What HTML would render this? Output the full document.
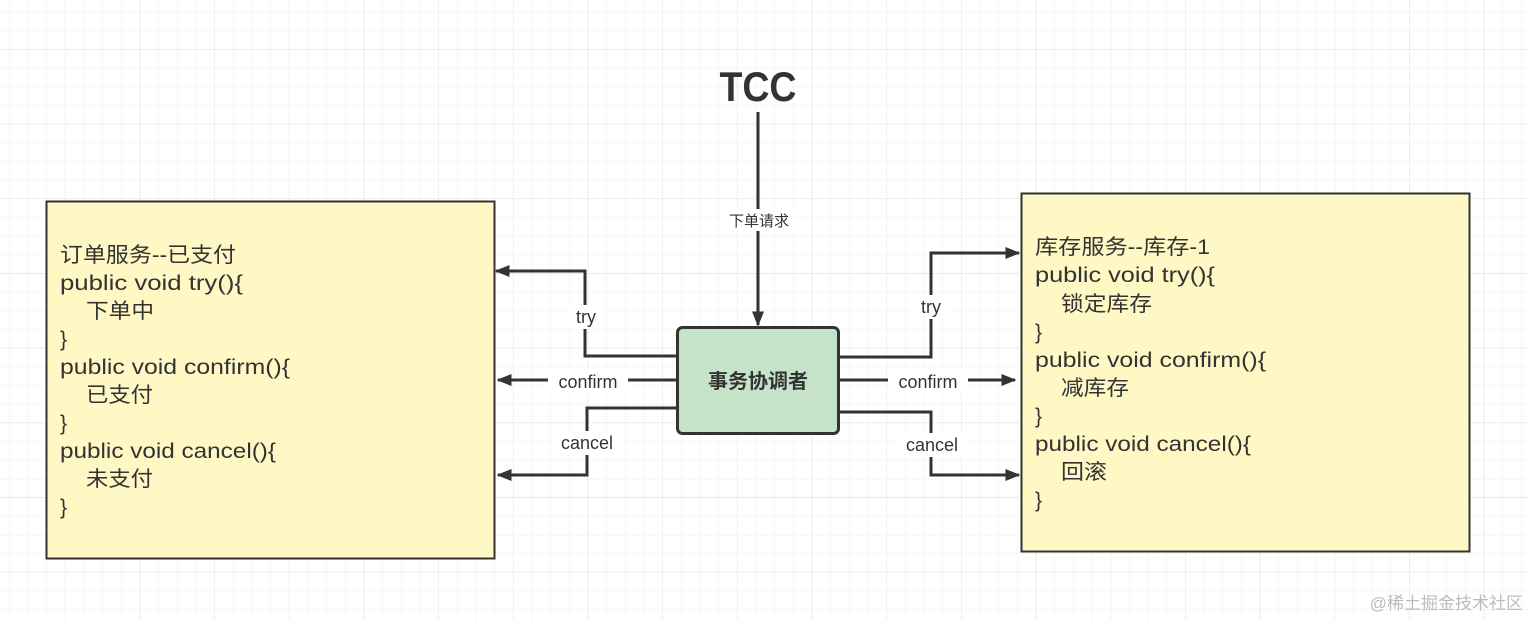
<!DOCTYPE html>
<html><head><meta charset="utf-8"><style>
html,body{margin:0;padding:0;background:#fff;}
svg{display:block;}
text{font-family:"Liberation Sans","Noto Sans CJK SC",sans-serif;}
</style></head><body>
<svg width="1529" height="620" viewBox="0 0 1529 620" xmlns="http://www.w3.org/2000/svg">
<defs>
<pattern id="g" x="9" y="12" width="18.67" height="18.67" patternUnits="userSpaceOnUse">
<path d="M0 0H18.67M0 0V18.67" stroke="#ededed" stroke-width="1" fill="none"/>
</pattern>
<pattern id="G" x="65" y="49" width="74.67" height="74.67" patternUnits="userSpaceOnUse">
<path d="M0 0H74.67M0 0V74.67" stroke="#e4e4e4" stroke-width="1" fill="none"/>
</pattern>
<marker id="a" viewBox="0 0 10 10" refX="9" refY="5" markerWidth="5" markerHeight="5" orient="auto"><path d="M0 1L10 5L0 9Z" fill="#333"/></marker>
</defs>
<rect width="1529" height="620" fill="url(#g)"/>
<rect width="1529" height="620" fill="url(#G)"/>

<rect x="46.5" y="201.5" width="448" height="357" fill="#fff8c5" stroke="#333" stroke-width="2"/>
<rect x="1021.5" y="193.5" width="448" height="358" fill="#fff8c5" stroke="#333" stroke-width="2"/>

<g fill="#333" font-size="21" lengthAdjust="spacingAndGlyphs">
<text x="60" y="262" textLength="176" lengthAdjust="spacingAndGlyphs">订单服务--已支付</text>
<text x="60" y="290" textLength="183" lengthAdjust="spacingAndGlyphs">public void try(){</text>
<text x="86" y="318" textLength="68" lengthAdjust="spacingAndGlyphs">下单中</text>
<text x="60" y="346">}</text>
<text x="60" y="374" textLength="230" lengthAdjust="spacingAndGlyphs">public void confirm(){</text>
<text x="86" y="402" textLength="67" lengthAdjust="spacingAndGlyphs">已支付</text>
<text x="60" y="430">}</text>
<text x="60" y="458" textLength="216" lengthAdjust="spacingAndGlyphs">public void cancel(){</text>
<text x="86" y="486" textLength="67" lengthAdjust="spacingAndGlyphs">未支付</text>
<text x="60" y="514">}</text>

<text x="1035" y="254" textLength="175" lengthAdjust="spacingAndGlyphs">库存服务--库存-1</text>
<text x="1035" y="282" textLength="180" lengthAdjust="spacingAndGlyphs">public void try(){</text>
<text x="1061" y="311" textLength="91" lengthAdjust="spacingAndGlyphs">锁定库存</text>
<text x="1035" y="339">}</text>
<text x="1035" y="367" textLength="231" lengthAdjust="spacingAndGlyphs">public void confirm(){</text>
<text x="1061" y="395" textLength="68" lengthAdjust="spacingAndGlyphs">减库存</text>
<text x="1035" y="423">}</text>
<text x="1035" y="451" textLength="216" lengthAdjust="spacingAndGlyphs">public void cancel(){</text>
<text x="1061" y="479" textLength="46" lengthAdjust="spacingAndGlyphs">回滚</text>
<text x="1035" y="507">}</text>
</g>

<text x="758" y="101" text-anchor="middle" font-size="42" font-weight="bold" fill="#333" textLength="77" lengthAdjust="spacingAndGlyphs">TCC</text>

<g stroke="#333" stroke-width="3" fill="none" marker-end="url(#a)">
<path d="M758 112V325"/>
<path d="M677 356H585V271H496"/>
<path d="M677 380H498"/>
<path d="M677 408H587V475H498"/>
<path d="M839 357H931V253H1019"/>
<path d="M839 380H1015"/>
<path d="M839 412H931V475H1019"/>
</g>

<rect x="677.5" y="327.5" width="161" height="106" rx="5" fill="#c6e3c9" stroke="#333" stroke-width="3"/>
<text x="758" y="388" text-anchor="middle" font-size="20" font-weight="bold" fill="#333">事务协调者</text>

<g font-size="18" fill="#333" text-anchor="middle">
<rect x="722" y="209" width="72" height="22" fill="#fff"/>
<text x="759" y="226" font-size="15">下单请求</text>
<rect x="568" y="305" width="36" height="24" fill="#fff"/>
<text x="586" y="323">try</text>
<rect x="548" y="370" width="80" height="24" fill="#fff"/>
<text x="588" y="388">confirm</text>
<rect x="554" y="431" width="66" height="24" fill="#fff"/>
<text x="587" y="449">cancel</text>
<rect x="913" y="295" width="36" height="24" fill="#fff"/>
<text x="931" y="313">try</text>
<rect x="888" y="370" width="80" height="24" fill="#fff"/>
<text x="928" y="388">confirm</text>
<rect x="899" y="433" width="66" height="24" fill="#fff"/>
<text x="932" y="451">cancel</text>
</g>

<text x="1523" y="609" text-anchor="end" font-size="17" fill="#bbb">@稀土掘金技术社区</text>
</svg>
</body></html>
